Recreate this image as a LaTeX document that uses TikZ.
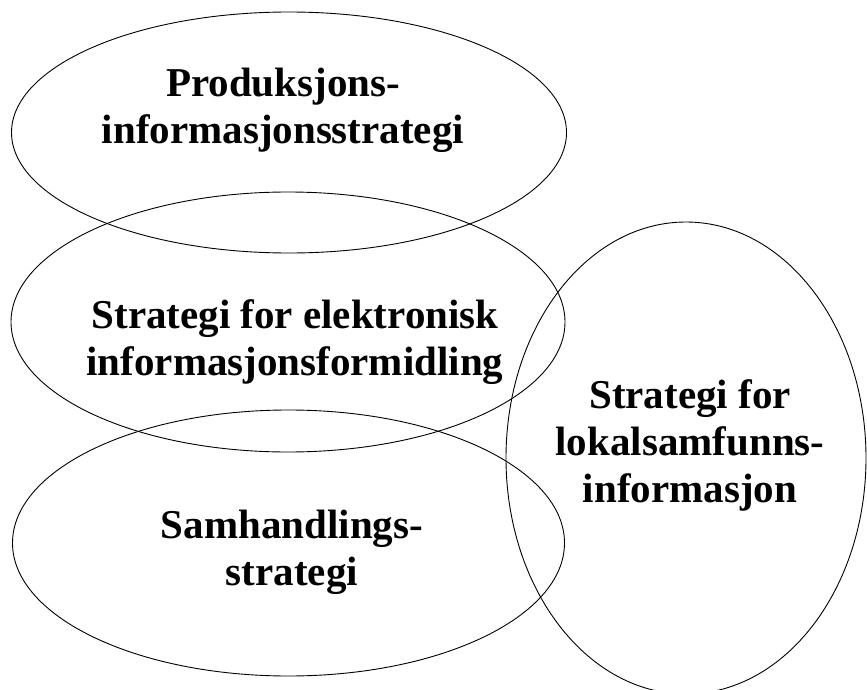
\documentclass[tikz,border=0pt]{standalone}
\usepackage{fontspec}
\setmainfont{Liberation Serif}
\usetikzlibrary{shapes.geometric}
\begin{document}
\begin{tikzpicture}[x=1pt,y=-1pt,
  blob/.style={draw=black,line width=0.9pt},
  lbl/.style={align=center,font=\fontsize{41}{47}\selectfont\bfseries,inner sep=0pt}]
\useasboundingbox (0,0) rectangle (867,690);
\clip (0,0) rectangle (867,690);
\draw[blob] (289,132.5) ellipse [x radius=277.5, y radius=120.5];
\draw[blob] (288,322) ellipse [x radius=277, y radius=130];
\draw[blob] (288.5,543) ellipse [x radius=276, y radius=133];
\draw[blob] (686,458) ellipse [x radius=180, y radius=236];
\node[lbl] (p) at (283,110) {Produksjons-\\informasjonsstrategi};
\node[lbl] (e) at (295,342) {Strategi for elektronisk\\informasjonsformidling};
\node[lbl] (s) at (292,552) {Samhandlings-\\strategi};
\node[lbl] (l) at (690,445.5) {Strategi for\\lokalsamfunns-\\informasjon};
\end{tikzpicture}
\end{document}
